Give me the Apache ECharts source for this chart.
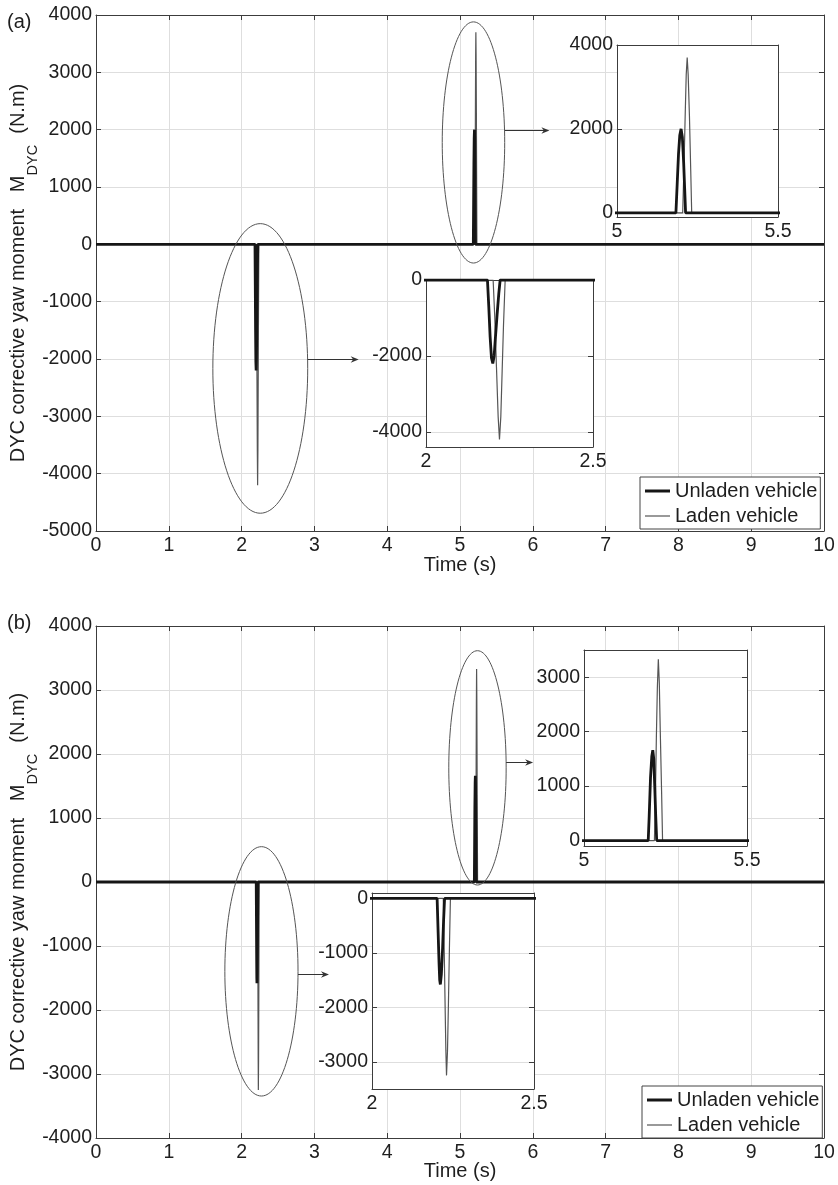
<!DOCTYPE html>
<html><head><meta charset="utf-8">
<script src="https://cdn.jsdelivr.net/npm/echarts@6/dist/echarts.min.js"></script>
<style>html,body{margin:0;padding:0;background:#fff}#c{width:838px;height:1185px}</style>
</head><body><div id="c"></div>
<script>
const FONT = '"Liberation Sans", Arial, Helvetica, sans-serif';
const SERIES_NAMES = ['Unladen vehicle', 'Laden vehicle'];
const X_NAME = 'Time (s)';
const PANEL_LABELS = ['(a)', '(b)'];

// Panel (a) data
const unladenA_t = [0, 2.184, 2.188, 2.192, 2.196, 2.200, 2.204, 2.208, 2.213, 2.218, 2.222, 5.183, 5.187, 5.191, 5.195, 5.199, 5.203, 5.207, 5.210, 5.213, 10];
const unladenA_v = [0, 0, -700, -1500, -2050, -2200, -2000, -1500, -900, -350, 0, 0, 700, 1400, 1850, 2000, 1800, 1200, 600, 0, 0];
const ladenA_t = [0, 2.201, 2.206, 2.211, 2.216, 2.220, 2.224, 2.228, 2.232, 2.237, 5.204, 5.208, 5.212, 5.215, 5.218, 5.221, 5.225, 5.229, 5.232, 10];
const ladenA_v = [0, 0, -1000, -2300, -3600, -4200, -3600, -2400, -1200, 0, 0, 1100, 2400, 3300, 3700, 3300, 2300, 1000, 0, 0];
// Panel (b) data
const unladenB_t = [0, 2.201, 2.204, 2.207, 2.209, 2.211, 2.214, 2.218, 2.221, 2.224, 5.197, 5.200, 5.204, 5.208, 5.211, 5.214, 5.217, 5.220, 5.223, 10];
const unladenB_v = [0, 0, -600, -1200, -1500, -1580, -1400, -900, -400, 0, 0, 450, 1150, 1550, 1660, 1500, 1000, 450, 0, 0];
const ladenB_t = [0, 2.220, 2.223, 2.226, 2.228, 2.230, 2.233, 2.236, 2.239, 2.242, 5.216, 5.219, 5.222, 5.225, 5.228, 5.231, 5.234, 5.238, 5.241, 10];
const ladenB_v = [0, 0, -1000, -2100, -2800, -3250, -2800, -1900, -900, 0, 0, 800, 1900, 2800, 3330, 2900, 2000, 900, 0, 0];

// Axis ranges [min, max]
const mainX = [0, 10];
const mainYA = [-5000, 4000];
const mainYB = [-4000, 4000];
const insetTopX = [5, 5.5];
const insetBotX = [2, 2.5];
const insetA1Y = [-100, 4000];
const insetA2Y = [-4400, 0];
const insetB1Y = [-100, 3500];
const insetB2Y = [-3500, 100];

// Annotation ellipses [xmin, xmax, ymax, ymin] in data units and arrows [x1, x2, y]
const ellA = [[1.605, 2.908, 361, -4690], [4.756, 5.614, 3880, -326]];
const ellB = [[1.770, 2.775, 552, -3344], [4.846, 5.634, 3614, -47]];
const arrA = [[2.908, 3.608, -2007], [5.614, 6.228, 1990]];
const arrB = [[2.775, 3.200, -1437], [5.634, 6.004, 1870]];

function pairs(t, v) { return t.map((x, i) => [x, v[i]]); }

const AX = '#3c3c3c', GRIDC = '#dedede', TXT = '#1e1e1e';
const C_UNL = '#161616', C_LAD = '#555555';

const gridPos = [
  {left: 95, top: 15, width: 729, height: 516},
  {left: 95, top: 626, width: 729, height: 512},
  {left: 617, top: 45, width: 161, height: 172},
  {left: 426, top: 280, width: 167, height: 167},
  {left: 584, top: 650, width: 163, height: 196},
  {left: 372, top: 893, width: 162, height: 196}
];
const gridSpec = [
  {x: mainX, xi: 1, y: mainYA, yi: 1000, panel: 0, main: true},
  {x: mainX, xi: 1, y: mainYB, yi: 1000, panel: 1, main: true},
  {x: insetTopX, xi: 0.5, y: insetA1Y, ys: 2, showMin: false, showMax: true, panel: 0},
  {x: insetBotX, xi: 0.5, y: insetA2Y, ys: 2, showMin: false, showMax: true, panel: 0},
  {x: insetTopX, xi: 0.5, y: insetB1Y, ys: 4, showMin: false, showMax: false, panel: 1},
  {x: insetBotX, xi: 0.5, y: insetB2Y, ys: 4, showMin: false, showMax: false, panel: 1}
];

const fmt = v => String(Math.round(v * 1000) / 1000);
const labelStyle = {fontSize: 19.5, color: TXT, fontFamily: FONT, formatter: fmt};
const grids = [], xAxes = [], yAxes = [], series = [];
gridSpec.forEach((s, g) => {
  const zc = s.main ? 0 : 4;
  grids.push(Object.assign({containLabel: false, show: !s.main, backgroundColor: '#fff', borderWidth: 0, z: s.main ? 0 : 3}, gridPos[g]));
  const tick = {show: true, inside: true, length: 5, lineStyle: {color: AX, width: 1}};
  const line = {show: true, onZero: false, lineStyle: {color: AX, width: 1}};
  const split = {show: true, showMinLine: false, showMaxLine: false, lineStyle: {color: GRIDC, width: 1}};
  const xb = {type: 'value', gridIndex: g, min: s.x[0], max: s.x[1], interval: s.xi, position: 'bottom', z: zc,
    axisLine: line, axisTick: tick, splitLine: s.main ? split : {show: false},
    axisLabel: Object.assign({margin: 4.5}, labelStyle)};
  if (s.main) {
    Object.assign(xb, {name: X_NAME, nameLocation: 'middle', nameGap: s.panel === 0 ? 24 : 23.5, nameMoveOverlap: false,
      nameTextStyle: {fontSize: 20, color: TXT, fontFamily: FONT}});
  }
  const xt = {type: 'value', gridIndex: g, min: s.x[0], max: s.x[1], interval: s.xi, position: 'top', z: zc,
    axisLine: line, axisTick: tick, splitLine: {show: false}, axisLabel: {show: false}};
  const yl = {type: 'value', gridIndex: g, min: s.y[0], max: s.y[1], position: 'left', z: zc,
    axisLine: line, axisTick: tick, splitLine: split,
    axisLabel: Object.assign({margin: 4}, labelStyle)};
  const yr = {type: 'value', gridIndex: g, min: s.y[0], max: s.y[1], position: 'right', z: zc,
    axisLine: line, axisTick: tick, splitLine: {show: false}, axisLabel: {show: false}};
  if (s.yi) { yl.interval = s.yi; yr.interval = s.yi; }
  else {
    yl.splitNumber = s.ys; yr.splitNumber = s.ys;
    yl.axisLabel.showMinLabel = s.showMin; yl.axisLabel.showMaxLabel = s.showMax;
  }
  if (s.main) {
    Object.assign(yl, {
      name: '{m|DYC corrective yaw moment   M}{s|DYC}{m|  (N.m)}',
      nameLocation: 'middle', nameRotate: 90, nameGap: 56, nameMoveOverlap: false,
      nameTextStyle: {rich: {
        m: {fontSize: 20, color: TXT, fontFamily: FONT, verticalAlign: 'top'},
        s: {fontSize: 14.5, color: TXT, fontFamily: FONT, verticalAlign: 'top', padding: [17, 0, 0, 0]}
      }}
    });
  }
  xAxes.push(xb, xt); yAxes.push(yl, yr);
  const dl = s.panel === 0 ? pairs(ladenA_t, ladenA_v) : pairs(ladenB_t, ladenB_v);
  const du = s.panel === 0 ? pairs(unladenA_t, unladenA_v) : pairs(unladenB_t, unladenB_v);
  const sz = s.main ? 2 : 6;
  series.push({type: 'line', name: SERIES_NAMES[1], xAxisIndex: 2 * g, yAxisIndex: 2 * g, data: dl,
    symbol: 'none', showSymbol: false, z: sz, clip: true, color: C_LAD, itemStyle: {color: C_LAD},
    lineStyle: {color: C_LAD, width: 1.2}});
  series.push({type: 'line', name: SERIES_NAMES[0], xAxisIndex: 2 * g, yAxisIndex: 2 * g, data: du,
    symbol: 'none', showSymbol: false, z: sz + 1, clip: true, color: C_UNL, itemStyle: {color: C_UNL},
    lineStyle: {color: C_UNL, width: 2.8}});
});

const legendData = [
  {name: SERIES_NAMES[0], icon: 'path://M0,0H25V3H0Z', itemStyle: {color: C_UNL, borderWidth: 0}},
  {name: SERIES_NAMES[1], icon: 'path://M0,0H25V1.2H0Z', itemStyle: {color: C_LAD, borderWidth: 0}}
];
const legendBase = {orient: 'vertical', data: legendData, selectedMode: false, itemWidth: 25, itemHeight: 14, itemGap: 5,
  backgroundColor: '#fff', borderColor: '#444', borderWidth: 1, borderRadius: 0, padding: [4, 3, 3, 5], z: 10,
  itemStyle: {borderWidth: 0}, lineStyle: {width: 0, opacity: 0},
  textStyle: {fontSize: 20, color: TXT, fontFamily: FONT}};

const chart = echarts.init(document.getElementById('c'), null, {renderer: 'canvas'});
chart.setOption({
  animation: false,
  backgroundColor: '#fff',
  textStyle: {fontFamily: FONT},
  grid: grids, xAxis: xAxes, yAxis: yAxes, series: series,
  legend: [Object.assign({left: 640, top: 477}, legendBase), Object.assign({left: 642, top: 1086}, legendBase)]
});

const graphics = [];
PANEL_LABELS.forEach((t, i) => {
  graphics.push({type: 'text', x: 7, y: i === 0 ? 12 : 613, z: 20, silent: true,
    style: {text: t, fontSize: 20, fontFamily: FONT, fill: TXT}});
});
function addAnn(ells, arrs, xi, yi) {
  const f = {xAxisIndex: xi, yAxisIndex: yi};
  ells.forEach(e => {
    const p1 = chart.convertToPixel(f, [e[0], e[2]]);
    const p2 = chart.convertToPixel(f, [e[1], e[3]]);
    graphics.push({type: 'ellipse', z: 20, silent: true,
      shape: {cx: (p1[0] + p2[0]) / 2, cy: (p1[1] + p2[1]) / 2, rx: Math.abs(p2[0] - p1[0]) / 2, ry: Math.abs(p2[1] - p1[1]) / 2},
      style: {fill: 'none', stroke: '#555', lineWidth: 1}});
  });
  arrs.forEach(a => {
    const p1 = chart.convertToPixel(f, [a[0], a[2]]);
    const p2 = chart.convertToPixel(f, [a[1], a[2]]);
    const y = Math.round(p1[1]) + 0.5;
    graphics.push({type: 'line', z: 20, silent: true, shape: {x1: p1[0], y1: y, x2: p2[0] - 4, y2: y},
      style: {stroke: '#333', lineWidth: 1}});
    graphics.push({type: 'polygon', z: 20, silent: true,
      shape: {points: [[p2[0], y], [p2[0] - 8, y - 3.2], [p2[0] - 5.5, y], [p2[0] - 8, y + 3.2]]},
      style: {fill: '#333'}});
  });
}
addAnn(ellA, arrA, 0, 0);
addAnn(ellB, arrB, 2, 2);
chart.setOption({graphic: graphics});
</script>
</body></html>
